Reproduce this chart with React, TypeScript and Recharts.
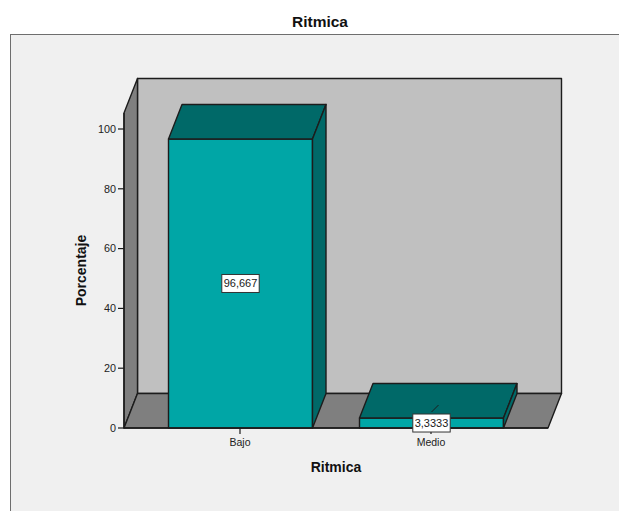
import React from 'react';
import { BarChart, Bar, XAxis, YAxis, ReferenceArea, LabelList, Label } from 'recharts';

const categories = ['Bajo', 'Medio'];
const percentages = [96.667, 3.3333];
const yTicks = [0, 20, 40, 60, 80, 100];
const yMax = 105.35;
const chartTitle = 'Ritmica';
const xTitle = 'Ritmica';
const yTitle = 'Porcentaje';

const data = categories.map((name, i) => ({ name, value: percentages[i] }));

const DX = 13.5;
const DY = 34.5;
const PAD_L = 20.5;
const PAD_R = 21.5;
const STROKE = '#1c1c1c';
const SW = 1.4;
const FRONT = '#00a6a6';
const DARK = '#006968';
const WALL = '#c0c0c0';
const SIDE = '#7f7f7f';

const font = '"Liberation Sans", Arial, sans-serif';

function Walls(props: any) {
  const { y, height } = props;
  const x = props.x - PAD_L;
  const width = props.width + PAD_L + PAD_R;
  const b = y + height;
  const r = x + width;
  return (
    <g stroke={STROKE} strokeWidth={SW} strokeLinejoin="round">
      <rect x={x + DX} y={y - DY} width={width} height={height} fill={WALL} />
      <polygon points={`${x},${y} ${x + DX},${y - DY} ${x + DX},${b - DY} ${x},${b}`} fill={SIDE} />
      <polygon points={`${x},${b} ${r},${b} ${r + DX},${b - DY} ${x + DX},${b - DY}`} fill={SIDE} />
    </g>
  );
}

function Box3D(props: any) {
  const { x, y, width, height } = props;
  const r = x + width;
  const b = y + height;
  return (
    <g stroke={STROKE} strokeWidth={SW} strokeLinejoin="round">
      <rect x={x} y={y} width={width} height={height} fill={FRONT} />
      <polygon points={`${x},${y} ${r},${y} ${r + DX},${y - DY} ${x + DX},${y - DY}`} fill={DARK} />
      <polygon points={`${r},${y} ${r + DX},${y - DY} ${r + DX},${b - DY} ${r},${b}`} fill={DARK} />
    </g>
  );
}

function ValueBox(props: any) {
  const { x, y, width, height, value } = props;
  const cx = x + width / 2;
  const cy = y + height / 2;
  const text = String(value).replace('.', ',');
  const w = text.length * 5.9 + 2;
  const h = 18;
  return (
    <g>
      {height < 30 && (
        <line x1={cx} y1={cy - 11} x2={cx + 7} y2={cy - 18} stroke={STROKE} strokeWidth={1} />
      )}
      <rect x={cx - w / 2} y={cy - h / 2} width={w} height={h} fill="#ffffff" stroke="#333333" strokeWidth={1} />
      <text x={cx} y={cy + 4} textAnchor="middle" fontSize={11} fontFamily={font} fill="#1a1a1a">
        {text}
      </text>
    </g>
  );
}

export default function App() {
  return (
    <div style={{ position: 'absolute', left: 0, top: 0, width: 619, height: 511, background: '#ffffff', overflow: 'hidden' }}>
      <div
        style={{
          position: 'absolute', left: 0, top: 12, width: 640, textAlign: 'center',
          fontFamily: font, fontWeight: 700, fontSize: 15.5, lineHeight: '20px', color: '#111111',
        }}
      >
        {chartTitle}
      </div>
      <div
        style={{
          position: 'absolute', left: 10, top: 34, width: 620, height: 490, boxSizing: 'border-box',
          background: '#f0f0f0', border: '1px solid #6e6e6e',
        }}
      />
      <div style={{ position: 'absolute', left: 0, top: 0 }}>
        <BarChart
          width={619}
          height={511}
          data={data}
          barSize={144}
          margin={{ left: 84, right: 71, top: 113, bottom: 53 }}
        >
          <XAxis
            dataKey="name"
            height={30}
            padding={{ left: PAD_L, right: PAD_R } as any}
            tickLine={{ stroke: STROKE, strokeWidth: 1.2 }}
            axisLine={{ stroke: STROKE, strokeWidth: SW }}
            tickSize={6}
            tickMargin={5}
            tick={{ fontSize: 10.5, fontFamily: font, fill: '#222222' }}
          >
            <Label value={xTitle} position="insideBottom" offset={-14} style={{ fontFamily: font, fontWeight: 700, fontSize: 14, fill: '#111111' }} />
          </XAxis>
          <YAxis
            width={40}
            domain={[0, yMax]}
            ticks={yTicks}
            tickLine={{ stroke: STROKE, strokeWidth: 1.2 }}
            axisLine={{ stroke: STROKE, strokeWidth: SW }}
            tickSize={6}
            tick={{ fontSize: 10.8, fontFamily: font, fill: '#222222' }}
          >
            <Label value={yTitle} angle={-90} position="insideLeft" offset={-3} style={{ fontFamily: font, fontWeight: 700, fontSize: 14, fill: '#111111', textAnchor: 'middle' }} />
          </YAxis>
          <ReferenceArea y1={0} y2={yMax} shape={Walls} ifOverflow="visible" />
          <Bar dataKey="value" isAnimationActive={false} shape={Box3D}>
            <LabelList dataKey="value" content={ValueBox} />
          </Bar>
        </BarChart>
      </div>
    </div>
  );
}
